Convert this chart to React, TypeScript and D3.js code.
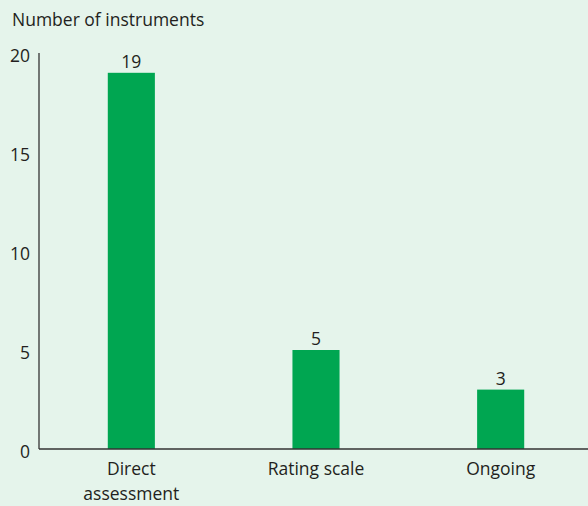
import React, { useRef, useEffect } from 'react';
import * as d3 from 'd3';

const categories = ['Direct\nassessment', 'Rating scale', 'Ongoing'];
const counts = [19, 5, 3];
const yTicks = [0, 5, 10, 15, 20];
const yTitle = 'Number of instruments';

const App = () => {
  const ref = useRef<SVGSVGElement>(null);

  useEffect(() => {
    if (!ref.current) return;
    const svg = d3.select(ref.current);
    svg.selectAll('*').remove();

    const width = 588;
    const height = 506;
    const font = '"Open Sans", "Noto Sans", sans-serif';
    const fs = '17.5px';
    const ink = '#231f20';

    svg.append('rect').attr('width', width).attr('height', height).attr('fill', '#e5f4eb');

    const x = d3.scaleBand()
      .domain(categories)
      .range([39, 593])
      .paddingInner(0.745)
      .paddingOuter(0.3725);

    const y = d3.scaleLinear().domain([0, 20]).range([449, 53]);

    // bars
    svg.selectAll('rect.bar')
      .data(counts)
      .join('rect')
      .attr('class', 'bar')
      .attr('x', (d, i) => x(categories[i])!)
      .attr('y', d => y(d))
      .attr('width', x.bandwidth())
      .attr('height', d => y(0) - y(d))
      .attr('fill', '#00a651');

    // value labels
    svg.selectAll('text.val')
      .data(counts)
      .join('text')
      .attr('class', 'val')
      .attr('x', (d, i) => x(categories[i])! + x.bandwidth() / 2)
      .attr('y', d => y(d) - 5)
      .attr('text-anchor', 'middle')
      .style('font-family', font)
      .style('font-size', fs)
      .attr('fill', ink)
      .text(d => d);

    // axes lines
    svg.append('line')
      .attr('x1', 39).attr('x2', 39)
      .attr('y1', y(20)).attr('y2', y(0))
      .attr('stroke', '#333').attr('stroke-width', 1.3);
    svg.append('line')
      .attr('x1', 39).attr('x2', width)
      .attr('y1', y(0)).attr('y2', y(0))
      .attr('stroke', '#333').attr('stroke-width', 1.3);

    // y tick labels
    svg.selectAll('text.yt')
      .data(yTicks)
      .join('text')
      .attr('class', 'yt')
      .attr('x', 30)
      .attr('y', d => y(d) + 9)
      .attr('text-anchor', 'end')
      .style('font-family', font)
      .style('font-size', fs)
      .attr('fill', ink)
      .text(d => d);

    // x labels
    categories.forEach(c => {
      const t = svg.append('text')
        .attr('x', x(c)! + x.bandwidth() / 2)
        .attr('y', 475)
        .attr('text-anchor', 'middle')
        .style('font-family', font)
        .style('font-size', fs)
        .attr('fill', ink);
      c.split('\n').forEach((line, i) => {
        t.append('tspan')
          .attr('x', x(c)! + x.bandwidth() / 2)
          .attr('dy', i === 0 ? 0 : 25)
          .text(line);
      });
    });

    // y title
    svg.append('text')
      .attr('x', 12)
      .attr('y', 26)
      .style('font-family', font)
      .style('font-size', fs)
      .attr('fill', ink)
      .text(yTitle);
  }, []);

  return <svg ref={ref} width={588} height={506} style={{ position: 'absolute', left: 0, top: 0 }} />;
};

export default App;
